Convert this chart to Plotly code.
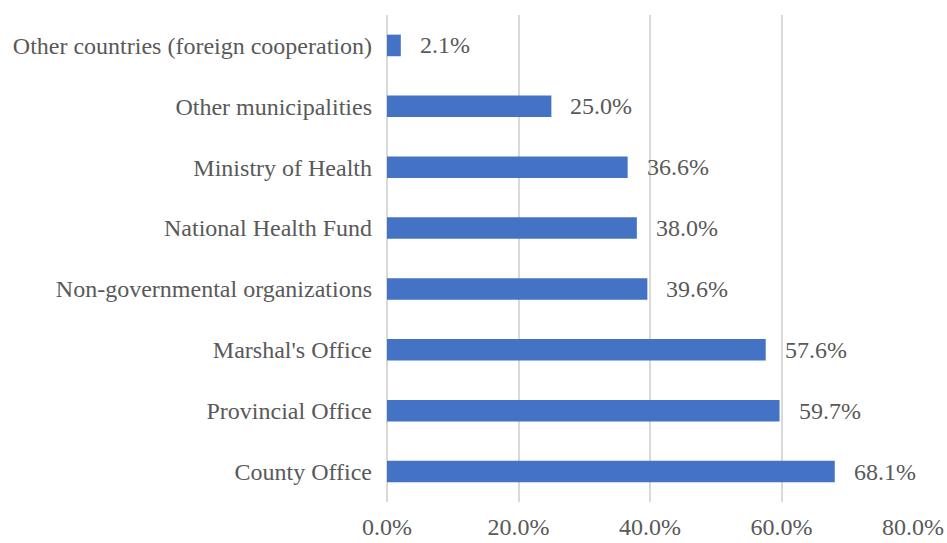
import plotly.graph_objects as go

categories = [
    "County Office",
    "Provincial Office",
    "Marshal's Office",
    "Non-governmental organizations",
    "National Health Fund",
    "Ministry of Health",
    "Other municipalities",
    "Other countries (foreign cooperation)",
]
values = [68.1, 59.7, 57.6, 39.6, 38.0, 36.6, 25.0, 2.1]
x_ticks = [0, 20, 40, 60, 80]
x_tick_labels = ["0.0%", "20.0%", "40.0%", "60.0%", "80.0%"]

font_family = "Liberation Serif"
text_color = "#595959"

fig = go.Figure(
    go.Bar(
        x=values,
        y=categories,
        orientation="h",
        marker=dict(color="#4472C4", line=dict(width=0)),
        width=0.355,
        hoverinfo="skip",
    )
)

for cat, v in zip(categories, values):
    fig.add_annotation(
        x=v, y=cat, text=f"{v:.1f}%", showarrow=False,
        xanchor="left", yanchor="middle", xshift=17,
        font=dict(family=font_family, size=24, color=text_color),
    )

fig.update_layout(
    width=947, height=543,
    margin=dict(l=387, r=34, t=15, b=41, autoexpand=False),
    paper_bgcolor="white", plot_bgcolor="white",
    showlegend=False,
    font=dict(family=font_family, size=24, color=text_color),
    xaxis=dict(
        range=[0, 80], tickvals=x_ticks, ticktext=x_tick_labels,
        showgrid=True, gridcolor="#d9d9d9", gridwidth=2,
        zeroline=True, zerolinecolor="#d9d9d9", zerolinewidth=2,
        showline=False, ticks="", ticklabelstandoff=8,
        automargin=False, fixedrange=True,
    ),
    yaxis=dict(
        categoryorder="array", categoryarray=categories,
        showgrid=False, zeroline=False, showline=False,
        ticks="", ticklabelstandoff=14,
        automargin=False, fixedrange=True,
    ),
)

fig.write_html("out.html")
